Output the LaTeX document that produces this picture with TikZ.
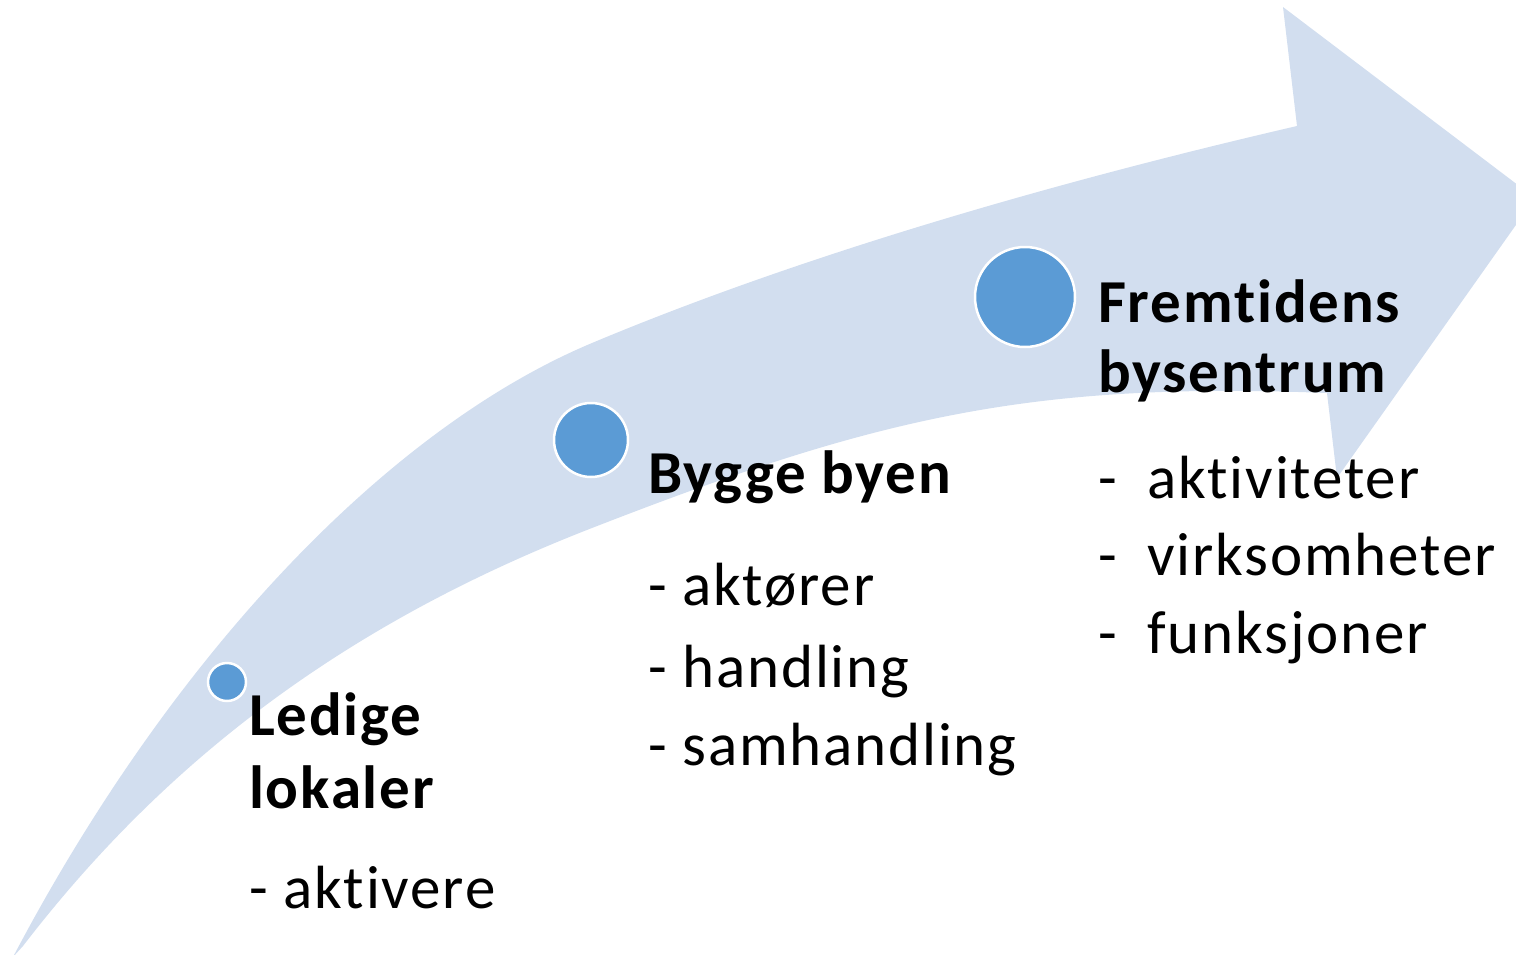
\documentclass[tikz,border=0pt]{standalone}
\usepackage{fontspec}
\setmainfont{Carlito}[Ligatures={NoCommon}, LetterSpace=3.0]
\definecolor{arrowfill}{RGB}{210,222,239}
\definecolor{dotfill}{RGB}{91,155,213}
\begin{document}
\begin{tikzpicture}[x=1pt,y=-1pt,
  dot/.style={circle, fill=dotfill, draw=white, line width=2.5pt, inner sep=0pt},
  title/.style={anchor=base west, inner sep=0pt, font=\fontsize{61}{72}\selectfont\bfseries},
  item/.style={anchor=base west, inner sep=0pt, font=\fontsize{61}{72}\selectfont}]
\useasboundingbox (0,0) rectangle (1516,954);
\clip (0,0) rectangle (1516,954);
% curved arrow
\fill[arrowfill] (13,957)
  .. controls (173,653) and (389,428) .. (592,343)
  .. controls (809,252) and (1068,179) .. (1297,126)
  -- (1283,7) -- (1535,198) -- (1337,478) -- (1327,393)
  .. controls (1027,381) and (872,419) .. (592,528)
  .. controls (350,622) and (169,756) .. (23,946)
  -- cycle;
% dots
\node[dot, minimum size=38pt] (dotA) at (227,682) {};
\node[dot, minimum size=74pt] (dotB) at (591,440) {};
\node[dot, minimum size=100pt] (dotC) at (1025,297) {};
% texts
\node[title] (a1) at (249,735) {Ledige};
\node[title] (a2) at (249,808) {lokaler};
\node[item]  (a3) at (249,908) {- aktivere};
\node[title] (b1) at (648,493) {Bygge byen};
\node[item]  (b2) at (648,605) {- aktører};
\node[item]  (b3) at (648,687) {- handling};
\node[item]  (b4) at (648,765) {- samhandling};
\node[title] (c1) at (1098,322) {Fremtidens};
\node[title] (c2) at (1098,392) {bysentrum};
\node[item]  (c3d) at (1098,498) {-};
\node[item]  (c3) at (1147,498) {aktiviteter};
\node[item]  (c4d) at (1098,575) {-};
\node[item]  (c4) at (1147,575) {virksomheter};
\node[item]  (c5d) at (1098,653) {-};
\node[item]  (c5) at (1147,653) {funksjoner};
\end{tikzpicture}
\end{document}
